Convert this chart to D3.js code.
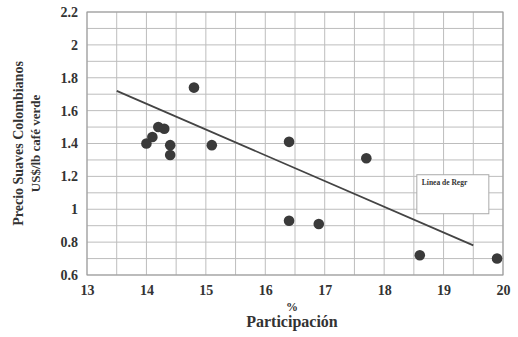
<!DOCTYPE html>
<html>
<head>
<meta charset="utf-8">
<script src="https://cdn.jsdelivr.net/npm/d3@7"></script>
<style>
  body { margin: 0; background: #fff; }
  svg text { font-family: "Liberation Serif", "Times New Roman", "DejaVu Serif", serif !important; font-weight: bold; fill: #333; }
</style>
</head>
<body>
<div id="chart"></div>
<script>
// participation (%) vs price of Colombian milds
var participacion = [14.8, 14.2, 14.3, 14.1, 14.0, 14.4, 14.4, 15.1, 16.4, 16.4, 16.9, 17.7, 18.6, 19.9];
var precio = [1.74, 1.50, 1.49, 1.44, 1.40, 1.39, 1.33, 1.39, 1.41, 0.93, 0.91, 1.31, 0.72, 0.70];

// regression line ends
var regrX = [13.5, 19.5];
var regrY = [1.72, 0.78];

var xTicks = [13, 14, 15, 16, 17, 18, 19, 20];
var yTicks = [0.6, 0.8, 1, 1.2, 1.4, 1.6, 1.8, 2, 2.2];

var margin = { top: 12, right: 15, bottom: 62, left: 87 },
    width = 518 - margin.left - margin.right,
    height = 337 - margin.top - margin.bottom;

var x = d3.scaleLinear().domain([13, 20]).range([0, width]);
var y = d3.scaleLinear().domain([0.6, 2.2]).range([height, 0]);

var svg = d3.select("#chart").append("svg")
    .attr("width", 518)
    .attr("height", 337)
    .append("g")
    .attr("transform", "translate(" + margin.left + "," + margin.top + ")");

// grid, every 0.5 on x and 0.1 on y
svg.append("g")
    .selectAll("line")
    .data(d3.range(13, 20.01, 0.5))
    .enter().append("line")
    .attr("x1", function (d) { return x(d); })
    .attr("x2", function (d) { return x(d); })
    .attr("y1", 0)
    .attr("y2", height)
    .style("stroke", "#bdbdbd")
    .style("stroke-width", 1);

svg.append("g")
    .selectAll("line")
    .data(d3.range(0.6, 2.201, 0.1))
    .enter().append("line")
    .attr("x1", 0)
    .attr("x2", width)
    .attr("y1", function (d) { return y(d); })
    .attr("y2", function (d) { return y(d); })
    .style("stroke", "#bdbdbd")
    .style("stroke-width", 1);

svg.append("rect")
    .attr("width", width)
    .attr("height", height)
    .style("fill", "none")
    .style("stroke", "#999");

// axes
var xAxis = svg.append("g")
    .call(d3.axisBottom(x).tickValues(xTicks).tickSize(0).tickPadding(10).tickFormat(d3.format("d")));
xAxis.attr("transform", "translate(0," + height + ")").attr("font-family", null);
xAxis.select(".domain").remove();
xAxis.selectAll("text").style("font-size", "14px");

var yAxis = svg.append("g")
    .call(d3.axisLeft(y).tickValues(yTicks).tickSize(0).tickPadding(9).tickFormat(function (d) { return d3.format("")(+d.toFixed(1)); }));
yAxis.attr("font-family", null);
yAxis.select(".domain").remove();
yAxis.selectAll("text").style("font-size", "14px");

// regression line
var line = d3.line()
    .x(function (d) { return x(d[0]); })
    .y(function (d) { return y(d[1]); });

svg.append("path")
    .attr("d", line(d3.zip(regrX, regrY)))
    .style("fill", "none")
    .style("stroke", "#444")
    .style("stroke-width", 1.8);

// points
svg.selectAll("circle")
    .data(d3.zip(participacion, precio))
    .enter().append("circle")
    .attr("cx", function (d) { return x(d[0]); })
    .attr("cy", function (d) { return y(d[1]); })
    .attr("r", 5.3)
    .style("fill", "#3a3a3a");

// legend box
var legend = svg.append("g")
    .attr("transform", "translate(" + (x(18.55)) + "," + (y(1.21)) + ")");
legend.append("rect")
    .attr("width", 72)
    .attr("height", 39)
    .style("fill", "#fff")
    .style("stroke", "#aaa");
legend.append("text")
    .attr("x", 5)
    .attr("y", 10)
    .style("font-size", "7.5px")
    .text("Línea de Regr");

// axis titles
svg.append("text")
    .attr("x", width / 2 - 3)
    .attr("y", height + 36)
    .style("text-anchor", "middle")
    .style("font-size", "12px")
    .text("%");

svg.append("text")
    .attr("x", width / 2 - 3)
    .attr("y", height + 52)
    .style("text-anchor", "middle")
    .style("font-size", "16px")
    .text("Participación");

svg.append("text")
    .attr("transform", "translate(" + (-64) + "," + (height / 2) + ") rotate(-90)")
    .style("text-anchor", "middle")
    .style("font-size", "14px")
    .text("Precio Suaves Colombianos");

svg.append("text")
    .attr("transform", "translate(" + (-47) + "," + (height / 2) + ") rotate(-90)")
    .style("text-anchor", "middle")
    .style("font-size", "13px")
    .text("US$/lb café verde");
</script>
</body>
</html>
